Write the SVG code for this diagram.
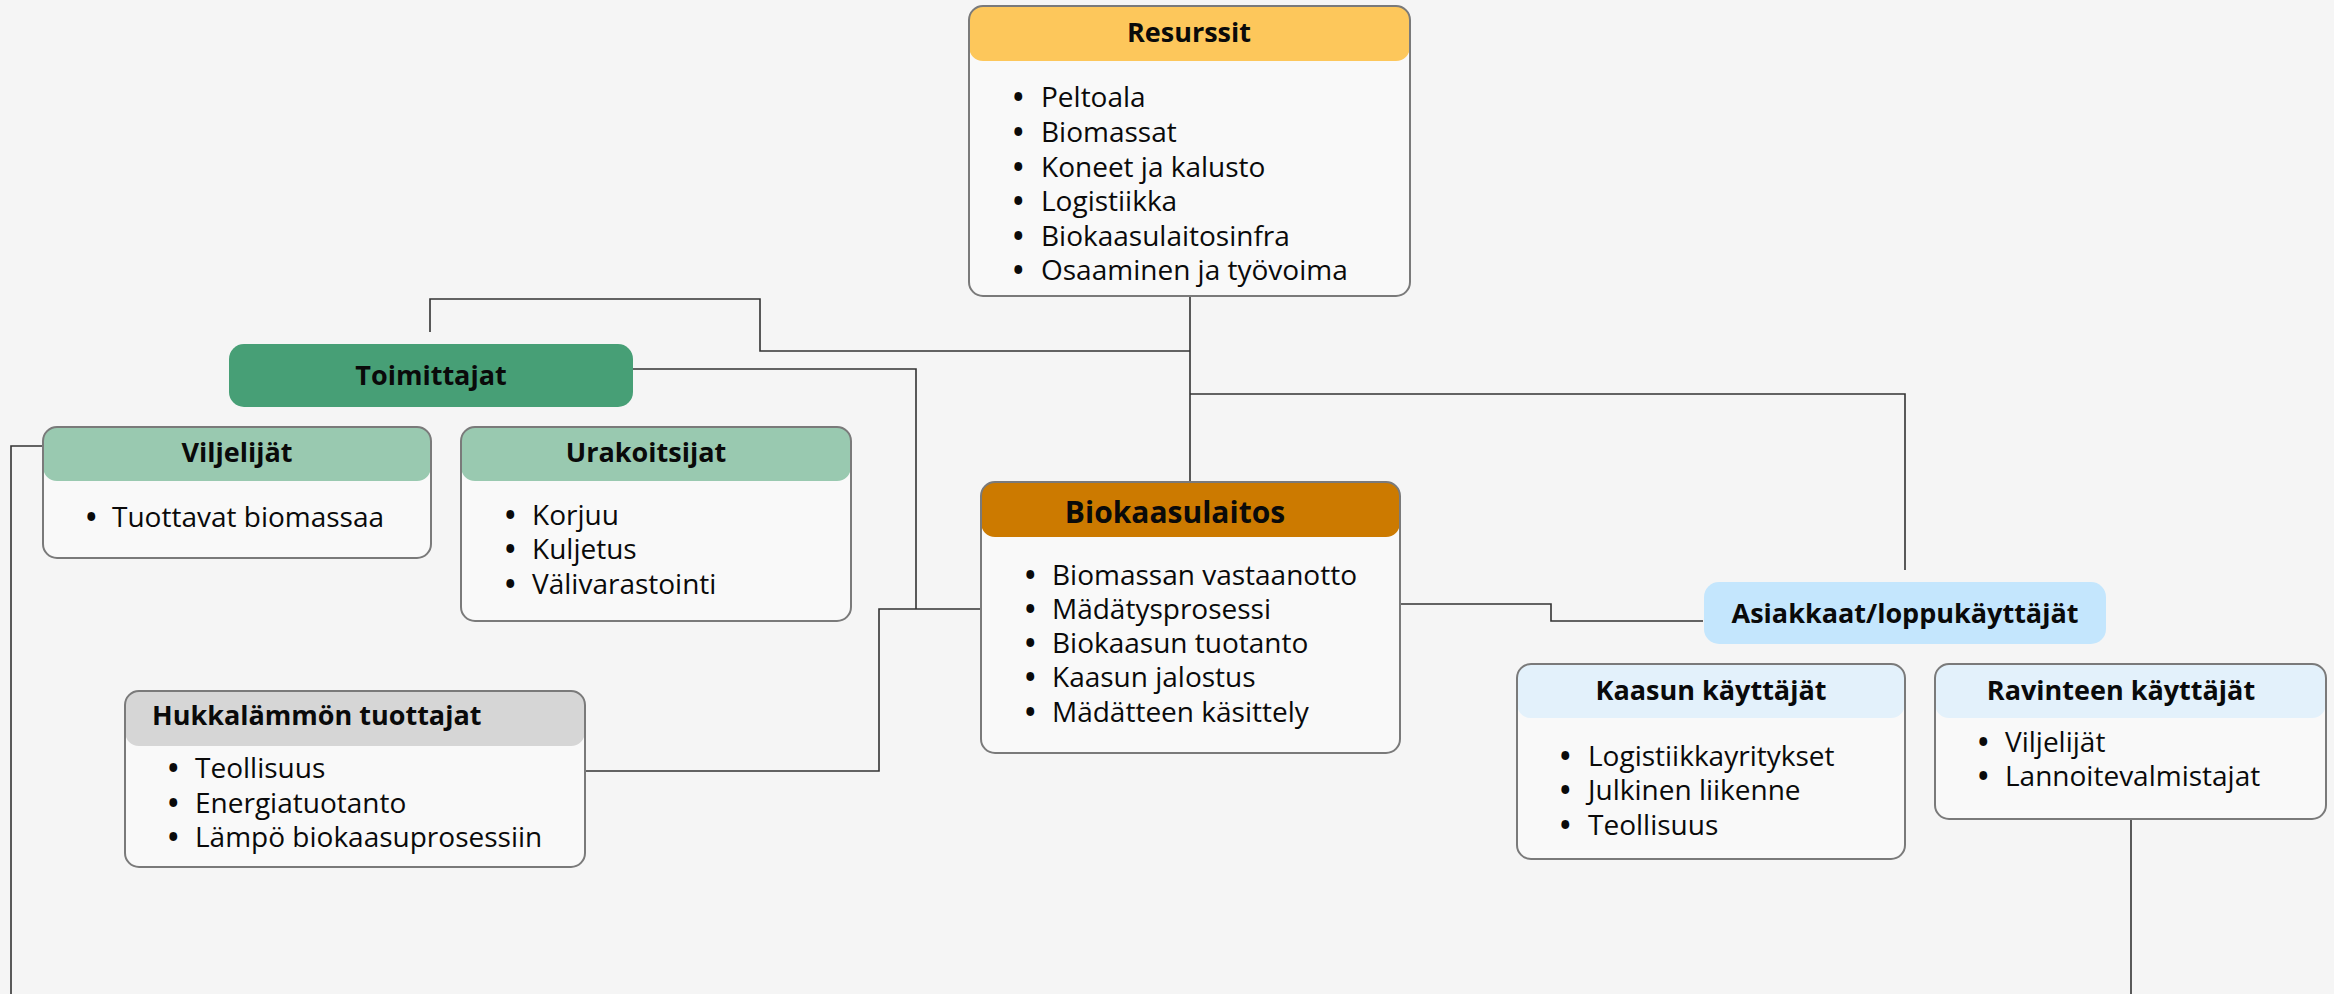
<svg xmlns="http://www.w3.org/2000/svg" width="2334" height="994" viewBox="0 0 2334 994">
<style>
.bg{fill:#f5f5f5}
.body{fill:#f9f9f9}
.outline{fill:none;stroke:#7a7a7a;stroke-width:2}
.ttl{font-family:"Open Sans","DejaVu Sans",sans-serif;font-weight:bold;font-size:27px;fill:#0a0a0a;text-anchor:middle}
.itm{font-family:"Open Sans","DejaVu Sans",sans-serif;font-size:28px;fill:#0a0a0a}
.b{font-weight:bold}
.conn{fill:none;stroke:#333;stroke-width:1.6}
</style>
<rect class="bg" x="0" y="0" width="2334" height="994"/>
<g id="connectors">
<path class="conn" d="M1190 296 V482"/>
<path class="conn" d="M430 332 V299 H760 V351 H1190"/>
<path class="conn" d="M1190 394 H1905 V570"/>
<path class="conn" d="M633 369 H916 V609"/>
<path class="conn" d="M585 771 H879 V609 H981"/>
<path class="conn" d="M1400 604 H1551 V621 H1703"/>
<path class="conn" d="M43 446 H11 V994"/>
<path class="conn" d="M2131 819 V994"/>
</g>
<g id="resurssit">
<rect class="body" x="969" y="6" width="441" height="290" rx="14"/>
<rect x="969" y="6" width="441" height="55" rx="14" fill="#fdc75b"/>
<rect class="outline" x="969" y="6" width="441" height="290" rx="14"/>
<text class="ttl" x="1189" y="42">Resurssit</text>
<text class="itm"><tspan class="b" x="1013" y="107">•</tspan><tspan x="1041">Peltoala</tspan><tspan class="b" x="1013" y="142">•</tspan><tspan x="1041">Biomassat</tspan><tspan class="b" x="1013" y="177">•</tspan><tspan x="1041">Koneet ja kalusto</tspan><tspan class="b" x="1013" y="211">•</tspan><tspan x="1041">Logistiikka</tspan><tspan class="b" x="1013" y="246">•</tspan><tspan x="1041">Biokaasulaitosinfra</tspan><tspan class="b" x="1013" y="280">•</tspan><tspan x="1041">Osaaminen ja työvoima</tspan></text>
</g>
<g id="toimittajat">
<rect x="229" y="344" width="404" height="63" rx="15" fill="#479f76"/>
<text class="ttl" x="431" y="385">Toimittajat</text>
</g>
<g id="viljelijat">
<rect class="body" x="43" y="427" width="388" height="131" rx="14"/>
<rect x="43" y="427" width="388" height="54" rx="14" fill="#99c9b0"/>
<rect class="outline" x="43" y="427" width="388" height="131" rx="14"/>
<text class="ttl" x="237" y="462">Viljelijät</text>
<text class="itm"><tspan class="b" x="86" y="527">•</tspan><tspan x="112">Tuottavat biomassaa</tspan></text>
</g>
<g id="urakoitsijat">
<rect class="body" x="461" y="427" width="390" height="194" rx="14"/>
<rect x="461" y="427" width="390" height="54" rx="14" fill="#99c9b0"/>
<rect class="outline" x="461" y="427" width="390" height="194" rx="14"/>
<text class="ttl" x="646" y="462">Urakoitsijat</text>
<text class="itm"><tspan class="b" x="505" y="525">•</tspan><tspan x="532">Korjuu</tspan><tspan class="b" x="505" y="559">•</tspan><tspan x="532">Kuljetus</tspan><tspan class="b" x="505" y="594">•</tspan><tspan x="532">Välivarastointi</tspan></text>
</g>
<g id="biokaasulaitos">
<rect class="body" x="981" y="482" width="419" height="271" rx="14"/>
<rect x="981" y="482" width="419" height="55" rx="14" fill="#cc7a00"/>
<rect class="outline" x="981" y="482" width="419" height="271" rx="14"/>
<text class="ttl" style="font-size:30px" x="1175" y="523">Biokaasulaitos</text>
<text class="itm"><tspan class="b" x="1025" y="585">•</tspan><tspan x="1052">Biomassan vastaanotto</tspan><tspan class="b" x="1025" y="619">•</tspan><tspan x="1052">Mädätysprosessi</tspan><tspan class="b" x="1025" y="653">•</tspan><tspan x="1052">Biokaasun tuotanto</tspan><tspan class="b" x="1025" y="687">•</tspan><tspan x="1052">Kaasun jalostus</tspan><tspan class="b" x="1025" y="722">•</tspan><tspan x="1052">Mädätteen käsittely</tspan></text>
</g>
<g id="hukkalammon">
<rect class="body" x="125" y="691" width="460" height="176" rx="14"/>
<rect x="125" y="691" width="460" height="55" rx="14" fill="#d6d6d6"/>
<rect class="outline" x="125" y="691" width="460" height="176" rx="14"/>
<text class="ttl" style="text-anchor:start" x="152" y="725">Hukkalämmön tuottajat</text>
<text class="itm"><tspan class="b" x="168" y="778">•</tspan><tspan x="195">Teollisuus</tspan><tspan class="b" x="168" y="813">•</tspan><tspan x="195">Energiatuotanto</tspan><tspan class="b" x="168" y="847">•</tspan><tspan x="195">Lämpö biokaasuprosessiin</tspan></text>
</g>
<g id="asiakkaat">
<rect x="1704" y="582" width="402" height="62" rx="15" fill="#c4e6fd"/>
<text class="ttl" x="1905" y="623">Asiakkaat/loppukäyttäjät</text>
</g>
<g id="kaasun">
<rect class="body" x="1517" y="664" width="388" height="195" rx="14"/>
<rect x="1517" y="664" width="388" height="54" rx="14" fill="#e3f1fb"/>
<rect class="outline" x="1517" y="664" width="388" height="195" rx="14"/>
<text class="ttl" x="1711" y="700">Kaasun käyttäjät</text>
<text class="itm"><tspan class="b" x="1560" y="766">•</tspan><tspan x="1588">Logistiikkayritykset</tspan><tspan class="b" x="1560" y="800">•</tspan><tspan x="1588">Julkinen liikenne</tspan><tspan class="b" x="1560" y="835">•</tspan><tspan x="1588">Teollisuus</tspan></text>
</g>
<g id="ravinteen">
<rect class="body" x="1935" y="664" width="391" height="155" rx="14"/>
<rect x="1935" y="664" width="391" height="54" rx="14" fill="#e3f1fb"/>
<rect class="outline" x="1935" y="664" width="391" height="155" rx="14"/>
<text class="ttl" x="2121" y="700">Ravinteen käyttäjät</text>
<text class="itm"><tspan class="b" x="1978" y="752">•</tspan><tspan x="2005">Viljelijät</tspan><tspan class="b" x="1978" y="786">•</tspan><tspan x="2005">Lannoitevalmistajat</tspan></text>
</g>
</svg>
